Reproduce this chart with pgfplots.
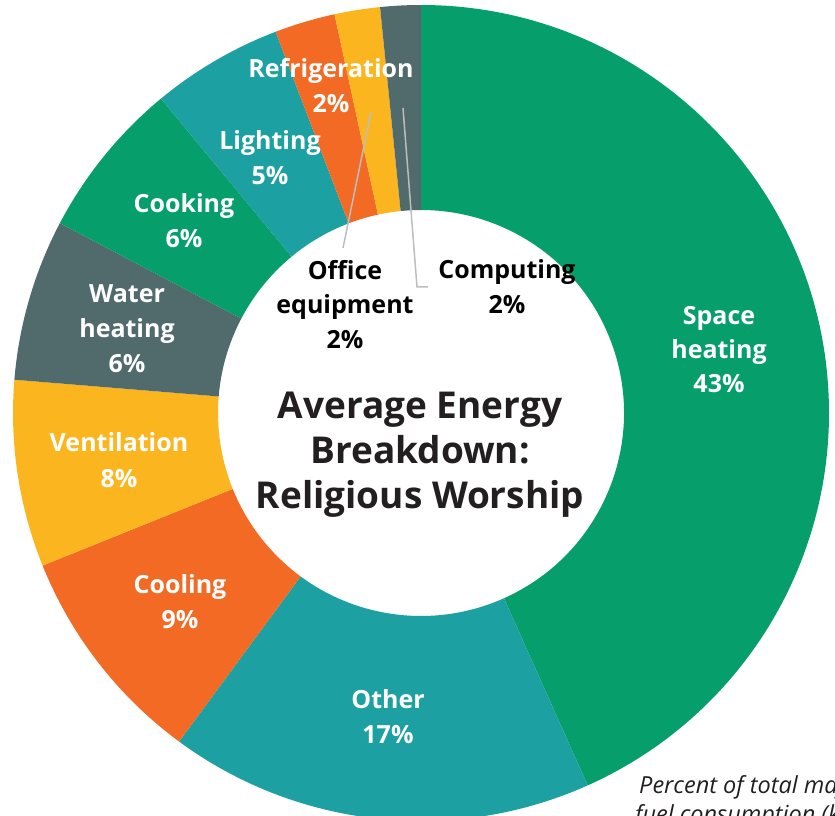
\documentclass[border=0pt]{standalone}
\usepackage{pgfplots}
\pgfplotsset{compat=1.18}
\usepackage{pgfplotstable}
\usepackage{fontspec}
\setmainfont{Open Sans}
\definecolor{cgreen}{HTML}{069F6B}
\definecolor{cteal}{HTML}{1DA0A1}
\definecolor{corange}{HTML}{F26A24}
\definecolor{cyellow}{HTML}{FBB51F}
\definecolor{cslate}{HTML}{516A6C}
\definecolor{ctext}{HTML}{231F20}
\definecolor{cline}{HTML}{BDBDBD}

\pgfplotstableread[col sep=comma]{
label,value,color
Space heating,43.3,cgreen
Other,16.8,cteal
Cooling,8.8,corange
Ventilation,7.4,cyellow
Water heating,6.4,cslate
Cooking,6.3,cgreen
Lighting,5.2,cteal
Refrigeration,2.4,corange
Office equipment,1.8,cyellow
Computing,1.6,cslate
}\slices

\tikzset{lbl/.style={anchor=base,inner sep=0pt,font=\bfseries\fontsize{25}{30}\selectfont}}
\newcommand{\lab}[4]{\node[lbl,text=#4] at (#1,#2) {#3};}

\begin{document}
\begin{tikzpicture}
\useasboundingbox (0,0) rectangle (835pt,815pt);
\clip (0,0) rectangle (835pt,815pt);
\begin{axis}[at={(421pt,402pt)}, anchor=center, x=1pt, y=1pt,
  xmin=-408, xmax=408, ymin=-408, ymax=408, hide axis, clip=false,
  disabledatascaling]
\def\cum{0}
\pgfplotsforeachungrouped \i in {0,...,9}{%
 \pgfplotstablegetelem{\i}{value}\of\slices \let\v\pgfplotsretval
 \pgfplotstablegetelem{\i}{color}\of\slices \let\c\pgfplotsretval
 \pgfmathsetmacro\aA{90-3.6*\cum}%
 \pgfmathsetmacro\aB{90-3.6*(\cum+\v)}%
 \pgfmathsetmacro\aC{\aB+180}%
 \pgfmathsetmacro\cum{\cum+\v}%
 \edef\doslice{\noexpand\fill[\c] (axis cs:0,0) ++(\aA:408pt) arc[start angle=\aA,end angle=\aB,radius=408pt] -- ++(\aC:205pt) arc[start angle=\aB,end angle=\aA,radius=203pt] -- cycle;}%
 \doslice
}
\end{axis}
\begin{scope}[yshift=815pt, x=1pt, y=-1pt]
% leader lines
\draw[cline, line width=1.5pt] (371,112) -- (343,248);
\draw[cline, line width=1.5pt] (403,108) -- (417,287) -- (428,287);
% white labels
\lab{331}{78}{Refrigeration}{white}
\lab{331}{113}{2\%}{white}
\lab{270}{150}{Lighting}{white}
\lab{270}{185}{5\%}{white}
\lab{184}{213}{Cooking}{white}
\lab{184}{248}{6\%}{white}
\lab{127}{303}{Water}{white}
\lab{127}{338}{heating}{white}
\lab{127}{373}{6\%}{white}
\lab{119}{452}{Ventilation}{white}
\lab{119}{487}{8\%}{white}
\lab{180}{593}{Cooling}{white}
\lab{180}{628}{9\%}{white}
\lab{388}{708}{Other}{white}
\lab{388}{743}{17\%}{white}
\lab{719}{325}{Space}{white}
\lab{719}{359}{heating}{white}
\lab{719}{393}{43\%}{white}
% black labels
\lab{345}{280}{Office}{black}
\lab{345}{314}{equipment}{black}
\lab{345}{349}{2\%}{black}
\lab{507}{279}{Computing}{black}
\lab{507}{314}{2\%}{black}
% title
\node[anchor=base,inner sep=0pt,text=ctext,font=\bfseries\fontsize{37}{44}\selectfont] at (420,419) {Average Energy};
\node[anchor=base,inner sep=0pt,text=ctext,font=\bfseries\fontsize{37}{44}\selectfont] at (420,463) {Breakdown:};
\node[anchor=base,inner sep=0pt,text=ctext,font=\bfseries\fontsize{37}{44}\selectfont] at (420,508) {Religious Worship};
% note (cut off at the picture's edge, as in the reference)
\node[anchor=base west,inner sep=0pt,text=ctext,font=\itshape\fontsize{23.5}{28}\selectfont] at (639,793) {Percent of total major};
\node[anchor=base west,inner sep=0pt,text=ctext,font=\itshape\fontsize{23.5}{28}\selectfont] at (635,822) {fuel consumption (kBtu)};
\end{scope}
\end{tikzpicture}
\end{document}
